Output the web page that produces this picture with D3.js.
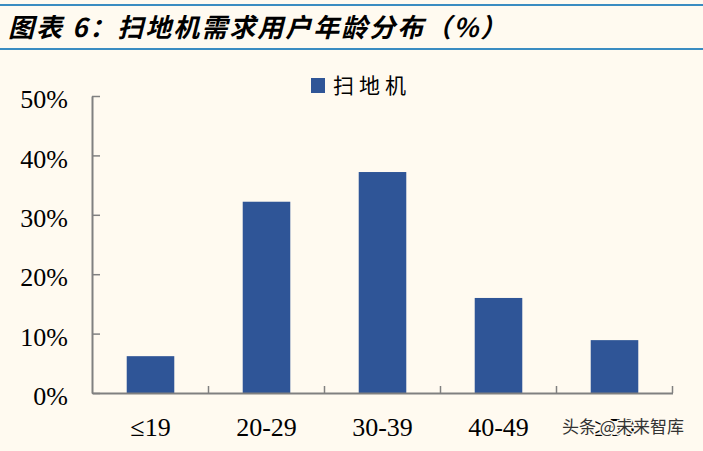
<!DOCTYPE html>
<html><head><meta charset="utf-8">
<script src="https://cdn.jsdelivr.net/npm/d3@7"></script>
<style>
html,body{margin:0;padding:0;background:#fffaf0;}
svg{display:block;}
</style></head>
<body>
<svg id="c" width="703" height="451"></svg>
<script>
const categories = ["≤19","20-29","30-39","40-49","≥50"];
const values = [6.2, 32.2, 37.2, 16.0, 8.9];
const yTicks = [0,10,20,30,40,50];
const seriesName = "扫地机";
const title = "图表 6：扫地机需求用户年龄分布（%）";
const watermark = "头条 @未来智库";

const svg = d3.select("#c");
const W = 703, H = 451;
svg.append("rect").attr("width",W).attr("height",H).attr("fill","#fffaf0");

// title bar
svg.append("line").attr("x1",0).attr("x2",W).attr("y1",5).attr("y2",5).attr("stroke","#3a8cc1").attr("stroke-width",2.2);
svg.append("line").attr("x1",0).attr("x2",W).attr("y1",49).attr("y2",49).attr("stroke","#3a8cc1").attr("stroke-width",2.2);
svg.append("text").attr("x",8).attr("y",37).text(title)
  .attr("font-family","'Noto Sans CJK SC'").attr("font-weight","bold").attr("font-style","italic")
  .attr("font-size",26).attr("letter-spacing",2).attr("fill","#000");

const x = d3.scaleBand().domain(categories).range([92.5,672.5]).paddingInner(0.59).paddingOuter(0.295);
const y = d3.scaleLinear().domain([0,50]).range([393,96]);

const serif = "'Liberation Serif','Times New Roman',serif";
const axisColor = "#808080";

// bars
svg.append("g").selectAll("rect").data(values).join("rect")
  .attr("x",(d,i)=>x(categories[i]))
  .attr("width",x.bandwidth())
  .attr("y",d=>y(d))
  .attr("height",d=>y(0)-y(d))
  .attr("fill","#2f5597");

// y axis
const ya = svg.append("g").attr("transform","translate(92,0)")
  .call(d3.axisLeft(y).tickValues(yTicks).tickFormat(d=>d+"%").tickSizeInner(-8).tickSizeOuter(0).tickPadding(24));
ya.select(".domain").attr("stroke",axisColor).attr("stroke-width",2);
ya.selectAll(".tick line").attr("stroke",axisColor).attr("stroke-width",1.5);
ya.selectAll(".tick text").attr("font-family",serif).attr("font-size",26).attr("fill","#000").attr("dy","0.45em");

// x axis
const xa = svg.append("g").attr("transform","translate(0,393)")
  .call(d3.axisBottom(x).tickSize(0).tickPadding(24.5));
xa.select(".domain").attr("stroke",axisColor).attr("stroke-width",2);
xa.selectAll(".tick text").attr("font-family",serif).attr("font-size",26).attr("fill","#000");
const step = x.step();
const bounds = d3.range(1, categories.length+1).map(i => x.range()[0] + i*step);
xa.append("g").selectAll("line").data(bounds).join("line")
  .attr("x1",d=>d).attr("x2",d=>d).attr("y1",0).attr("y2",-7)
  .attr("stroke",axisColor).attr("stroke-width",1.5);

// legend
svg.append("rect").attr("x",311).attr("y",78).attr("width",14).attr("height",15).attr("fill","#2f5597");
svg.append("text").attr("x",333).attr("y",93).text(seriesName)
  .attr("font-family","'Noto Sans CJK SC'").attr("font-size",21).attr("letter-spacing",5).attr("fill","#000");

// watermark (overlays the last category label, as in the source image)
svg.append("text").attr("x",562).attr("y",433).text(watermark)
  .attr("font-family","'Noto Sans CJK SC'").attr("font-size",17).attr("fill","#333")
  .attr("stroke","#fffaf0").attr("stroke-width",2.5).attr("paint-order","stroke");
</script>
</body></html>
